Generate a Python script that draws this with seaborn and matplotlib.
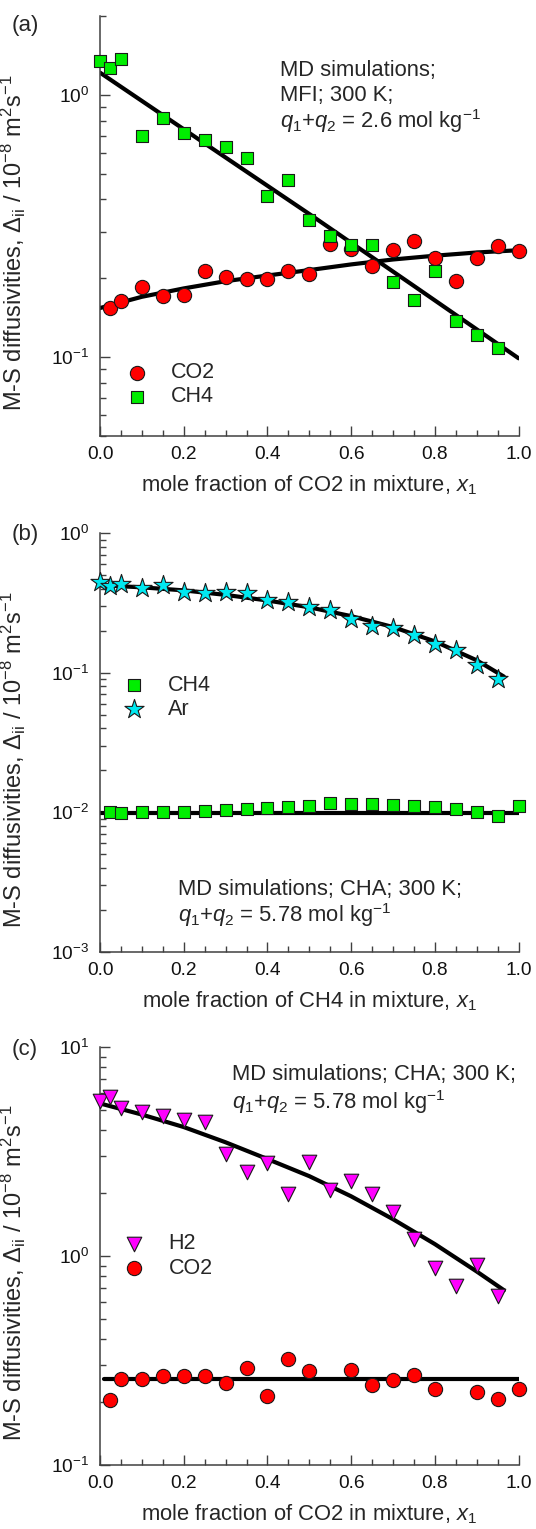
import numpy as np
import pandas as pd
import matplotlib
matplotlib.use("Agg")
import matplotlib.pyplot as plt
import seaborn as sns
from matplotlib.ticker import LogLocator, NullFormatter, MultipleLocator, FormatStrFormatter

# ---------------- data ----------------
# panel (a): MFI, CO2/CH4
xa_co2 = [0.025, 0.05, 0.1, 0.15, 0.2, 0.25, 0.3, 0.35, 0.4, 0.45, 0.5, 0.55, 0.6, 0.65, 0.7, 0.75, 0.8, 0.85, 0.9, 0.95, 1.0]
da_co2 = [0.154, 0.164, 0.185, 0.171, 0.173, 0.214, 0.202, 0.199, 0.199, 0.214, 0.208, 0.271, 0.258, 0.223, 0.257, 0.278, 0.239, 0.196, 0.239, 0.266, 0.254]
xa_ch4 = [0.0, 0.025, 0.05, 0.1, 0.15, 0.2, 0.25, 0.3, 0.35, 0.4, 0.45, 0.5, 0.55, 0.6, 0.65, 0.7, 0.75, 0.8, 0.85, 0.9, 0.95]
da_ch4 = [1.35, 1.27, 1.37, 0.70, 0.82, 0.72, 0.675, 0.637, 0.578, 0.413, 0.475, 0.333, 0.290, 0.267, 0.269, 0.193, 0.165, 0.213, 0.138, 0.121, 0.108]
fa_co2_x = [0.0, 0.1, 0.2, 0.3, 0.4, 0.5, 0.6, 0.7, 0.8, 0.9, 1.0]
fa_co2_y = [0.154, 0.170, 0.183, 0.195, 0.205, 0.215, 0.226, 0.236, 0.244, 0.251, 0.256]
fa_ch4_x = [0.0, 0.25, 0.5, 0.75, 1.0]
fa_ch4_y = [1.22, 0.655, 0.352, 0.187, 0.099]

# panel (b): CHA, CH4/Ar
xb_ch4 = [0.025, 0.05, 0.1, 0.15, 0.2, 0.25, 0.3, 0.35, 0.4, 0.45, 0.5, 0.55, 0.6, 0.65, 0.7, 0.75, 0.8, 0.85, 0.9, 0.95, 1.0]
db_ch4 = [0.0100, 0.00984, 0.0100, 0.0101, 0.0100, 0.0102, 0.0104, 0.0106, 0.0107, 0.0110, 0.0112, 0.0116, 0.0115, 0.0115, 0.0113, 0.0112, 0.0110, 0.0105, 0.0100, 0.00941, 0.0111]
xb_ar = [0.0, 0.025, 0.05, 0.1, 0.15, 0.2, 0.25, 0.3, 0.35, 0.4, 0.45, 0.5, 0.55, 0.6, 0.65, 0.7, 0.75, 0.8, 0.85, 0.9, 0.95]
db_ar = [0.445, 0.421, 0.433, 0.407, 0.426, 0.381, 0.371, 0.381, 0.371, 0.332, 0.323, 0.298, 0.282, 0.245, 0.216, 0.210, 0.188, 0.161, 0.146, 0.1135, 0.090]
fb_ar_x = [0.0, 0.1, 0.2, 0.3, 0.4, 0.5, 0.6, 0.7, 0.8, 0.9, 0.965]
fb_ar_y = [0.425, 0.41, 0.39, 0.362, 0.33, 0.295, 0.255, 0.213, 0.168, 0.123, 0.094]
fb_ch4_x = [0.0, 1.0]
fb_ch4_y = [0.0099, 0.0099]

# panel (c): CHA, CO2/H2
xc_h2 = [0.0, 0.025, 0.05, 0.1, 0.15, 0.2, 0.25, 0.3, 0.35, 0.4, 0.45, 0.5, 0.55, 0.6, 0.65, 0.7, 0.75, 0.8, 0.85, 0.9, 0.95]
dc_h2 = [5.53, 5.79, 5.12, 4.90, 4.68, 4.46, 4.38, 3.07, 2.51, 2.80, 1.99, 2.82, 2.07, 2.28, 1.99, 1.62, 1.21, 0.875, 0.721, 0.901, 0.644]
xc_co2 = [0.025, 0.05, 0.1, 0.15, 0.2, 0.25, 0.3, 0.35, 0.4, 0.45, 0.5, 0.6, 0.65, 0.7, 0.75, 0.8, 0.9, 0.95, 1.0]
dc_co2 = [0.204, 0.257, 0.259, 0.266, 0.266, 0.266, 0.247, 0.290, 0.213, 0.320, 0.282, 0.286, 0.242, 0.254, 0.269, 0.230, 0.223, 0.207, 0.230]
fc_h2_x = [0.0, 0.1, 0.2, 0.3, 0.4, 0.5, 0.6, 0.7, 0.8, 0.9, 0.965]
fc_h2_y = [5.37, 4.75, 4.14, 3.50, 2.91, 2.41, 1.93, 1.50, 1.14, 0.843, 0.686]
fc_co2_x = [0.01, 1.0]
fc_co2_y = [0.259, 0.259]

x_ticks = [0.0, 0.2, 0.4, 0.6, 0.8, 1.0]

# ---------------- style ----------------
sns.set_style("ticks")
plt.rcParams["font.family"] = ["Liberation Sans", "DejaVu Sans"]
plt.rcParams["mathtext.fontset"] = "custom"
plt.rcParams["mathtext.rm"] = "Liberation Sans"
plt.rcParams["mathtext.it"] = "Liberation Sans:italic"
plt.rcParams["mathtext.bf"] = "Liberation Sans:bold"

W, H = 536, 1529
fig = plt.figure(figsize=(W / 100, H / 100), dpi=100)


def rect(l, t, r, b):
    return [l / W, 1 - b / H, (r - l) / W, (b - t) / H]


ax_a = fig.add_axes(rect(100, 16.4, 518.6, 436))
ax_b = fig.add_axes(rect(100, 533.3, 518.6, 952))
ax_c = fig.add_axes(rect(100, 1047, 518.6, 1465))

FS = 15.8        # annotations
LEGFS = 15.5
XLFS = 15.8
YLFS = 17
TICKFS = 13.8
AXC = "#404040"
EDGE = "#1a1a1a"
YLABEL = r"M-S diffusivities, $\Delta_{\mathrm{ii}}$ / 10$^{-8}$ m$^{2}$s$^{-1}$"


def style(ax, ylim, xlabel):
    ax.set_yscale("log")
    ax.set_ylim(ylim)
    ax.set_xlim(0, 1)
    ax.set_xticks(x_ticks)
    ax.xaxis.set_minor_locator(MultipleLocator(0.05))
    ax.xaxis.set_major_formatter(FormatStrFormatter("%.1f"))
    ax.yaxis.set_major_locator(LogLocator(base=10, numticks=20))
    ax.yaxis.set_minor_locator(LogLocator(base=10, subs=np.arange(2, 10), numticks=20))
    ax.yaxis.set_minor_formatter(NullFormatter())
    ax.tick_params(which="major", direction="in", length=7, width=1.0, color=AXC,
                   labelsize=TICKFS, labelcolor="#111111")
    ax.tick_params(which="minor", direction="in", length=4.5, width=1.0, color=AXC)
    ax.tick_params(axis="x", which="major", pad=7)
    ax.tick_params(axis="y", which="major", pad=8)
    for s in ["top", "right"]:
        ax.spines[s].set_visible(False)
    for s in ["left", "bottom"]:
        ax.spines[s].set_color(AXC)
        ax.spines[s].set_linewidth(1.1)
    ax.set_xlabel(xlabel, fontsize=XLFS, labelpad=8)
    ax.set_ylabel(YLABEL, fontsize=YLFS)
    ax.yaxis.set_label_coords(-0.172, 0.46)
    ax.set_facecolor("white")


def fitline(ax, x, y):
    sns.lineplot(x=x, y=y, ax=ax, color="black", linewidth=3.0, zorder=2,
                 sort=False, estimator=None)


def pts(ax, x, y, marker, s, color, label):
    sns.scatterplot(x=x, y=y, ax=ax, marker=marker, s=s, color=color,
                    edgecolor=EDGE, linewidth=0.8, zorder=3, clip_on=False, label=label)
    return ax.collections[-1]


def legend(ax, handles, labels, anchor):
    ax.legend(handles, labels, loc="center left", bbox_to_anchor=anchor, frameon=False,
              fontsize=LEGFS, handlelength=1.0, handletextpad=1.1, labelspacing=0.15,
              borderpad=0, borderaxespad=0, scatterpoints=1)


RED = "#ff0000"
GREEN = "#00ee00"
CYAN = "#00e8f0"
MAGENTA = "#ff00ff"

# ---------- panel (a) ----------
style(ax_a, (0.05, 2.0), r"mole fraction of CO2 in mixture, $x_1$")
fitline(ax_a, fa_co2_x, fa_co2_y)
fitline(ax_a, fa_ch4_x, fa_ch4_y)
h1 = pts(ax_a, xa_co2, da_co2, "o", 105, RED, "CO2")
h2 = pts(ax_a, xa_ch4, da_ch4, "s", 85, GREEN, "CH4")
legend(ax_a, [h1, h2], ["CO2", "CH4"], (0.062, 0.122))
for txt, yy in [("MD simulations;", 0.857), ("MFI; 300 K;", 0.798),
                (r"$q_1$+$q_2$ = 2.6 mol kg$^{-1}$", 0.733)]:
    ax_a.text(0.429, yy, txt, transform=ax_a.transAxes, fontsize=FS, va="baseline", ha="left")

# ---------- panel (b) ----------
style(ax_b, (1e-3, 1.0), r"mole fraction of CH4 in mixture, $x_1$")
fitline(ax_b, fb_ar_x, fb_ar_y)
fitline(ax_b, fb_ch4_x, fb_ch4_y)
h1 = pts(ax_b, xb_ch4, db_ch4, "s", 85, GREEN, "CH4")
h2 = pts(ax_b, xb_ar, db_ar, "*", 210, CYAN, "Ar")
legend(ax_b, [h1, h2], ["CH4", "Ar"], (0.055, 0.608))
for txt, yy in [("MD simulations; CHA; 300 K;", 0.136),
                (r"$q_1$+$q_2$ = 5.78 mol kg$^{-1}$", 0.072)]:
    ax_b.text(0.187, yy, txt, transform=ax_b.transAxes, fontsize=FS, va="baseline", ha="left")

# ---------- panel (c) ----------
style(ax_c, (0.1, 10.0), r"mole fraction of CO2 in mixture, $x_1$")
fitline(ax_c, fc_h2_x, fc_h2_y)
fitline(ax_c, fc_co2_x, fc_co2_y)
h1 = pts(ax_c, xc_h2, dc_h2, "v", 110, MAGENTA, "H2")
h2 = pts(ax_c, xc_co2, dc_co2, "o", 105, RED, "CO2")
legend(ax_c, [h1, h2], ["H2", "CO2"], (0.056, 0.500))
for txt, yy in [("MD simulations; CHA; 300 K;", 0.920),
                (r"$q_1$+$q_2$ = 5.78 mol kg$^{-1}$", 0.852)]:
    ax_c.text(0.3165, yy, txt, transform=ax_c.transAxes, fontsize=FS, va="baseline", ha="left")

# panel letters
for lab, ypx in [("(a)", 25.6), ("(b)", 534.7), ("(c)", 1049.6)]:
    fig.text(25 / W, 1 - ypx / H, lab, ha="center", va="center", fontsize=16)

fig.savefig("out.png", dpi=100, facecolor="white")
